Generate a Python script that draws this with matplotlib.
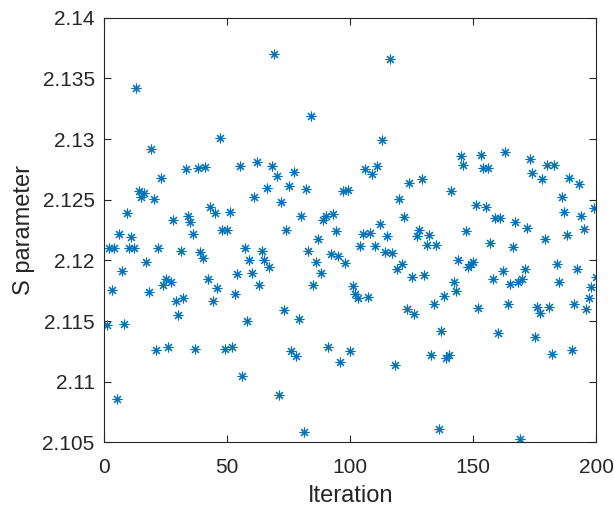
import numpy as np
import matplotlib
matplotlib.use('Agg')
import matplotlib.pyplot as plt

plt.rcParams['font.family'] = ['Liberation Sans', 'DejaVu Sans']

# S parameter value for each iteration
iteration = list(range(1, 201))
s_param = [
    2.1147, 2.1210, 2.1176, 2.1210, 2.1086, 2.1222, 2.1191, 2.1148, 2.1239, 2.1210,
    2.1219, 2.1210, 2.1342, 2.1257, 2.1252, 2.1256, 2.1199, 2.1174, 2.1292, 2.1251,
    2.1126, 2.1210, 2.1268, 2.1180, 2.1185, 2.1129, 2.1182, 2.1233, 2.1167, 2.1155,
    2.1208, 2.1169, 2.1275, 2.1237, 2.1232, 2.1222, 2.1127, 2.1276, 2.1207, 2.1202,
    2.1277, 2.1185, 2.1244, 2.1167, 2.1239, 2.1177, 2.1301, 2.1225, 2.1127, 2.1225,
    2.1240, 2.1129, 2.1172, 2.1189, 2.1278, 2.1105, 2.1210, 2.1150, 2.1200, 2.1190,
    2.1252, 2.1281, 2.1180, 2.1208, 2.1200, 2.1260, 2.1195, 2.1278, 2.1370, 2.1270,
    2.1089, 2.1248, 2.1159, 2.1225, 2.1261, 2.1125, 2.1273, 2.1121, 2.1152, 2.1237,
    2.1059, 2.1259, 2.1208, 2.1319, 2.1180, 2.1199, 2.1218, 2.1190, 2.1233, 2.1237,
    2.1129, 2.1205, 2.1238, 2.1224, 2.1204, 2.1116, 2.1257, 2.1198, 2.1258, 2.1125,
    2.1179, 2.1172, 2.1169, 2.1212, 2.1222, 2.1275, 2.1170, 2.1223, 2.1271, 2.1212,
    2.1278, 2.1230, 2.1299, 2.1207, 2.1220, 2.1366, 2.1206, 2.1114, 2.1193, 2.1251,
    2.1197, 2.1236, 2.1160, 2.1264, 2.1186, 2.1156, 2.1220, 2.1225, 2.1267, 2.1188,
    2.1213, 2.1221, 2.1122, 2.1164, 2.1213, 2.1061, 2.1142, 2.1171, 2.1120, 2.1122,
    2.1257, 2.1182, 2.1175, 2.1200, 2.1286, 2.1279, 2.1224, 2.1195, 2.1197, 2.1199,
    2.1246, 2.1161, 2.1287, 2.1276, 2.1244, 2.1276, 2.1214, 2.1185, 2.1235, 2.1140,
    2.1235, 2.1191, 2.1289, 2.1164, 2.1181, 2.1211, 2.1232, 2.1182, 2.1053, 2.1185,
    2.1193, 2.1227, 2.1284, 2.1272, 2.1137, 2.1162, 2.1157, 2.1267, 2.1218, 2.1279,
    2.1162, 2.1123, 2.1279, 2.1197, 2.1182, 2.1252, 2.1240, 2.1221, 2.1268, 2.1126,
    2.1164, 2.1193, 2.1263, 2.1237, 2.1226, 2.1160, 2.1169, 2.1178, 2.1243, 2.1186,
]
x_ticks = [0, 50, 100, 150, 200]
y_ticks = [2.105, 2.11, 2.115, 2.12, 2.125, 2.13, 2.135, 2.14]

fig = plt.figure(figsize=(6.14, 5.08), dpi=100)
ax = fig.add_axes([0.170, 0.129, 0.801, 0.836])

# MATLAB-style '*' marker: 8-armed asterisk
ax.plot(iteration, s_param, linestyle='none', marker=(8, 2, 0), markersize=7,
        markeredgewidth=0.8, color='#0072BD')

ax.set_xlim(0, 200)
ax.set_ylim(2.105, 2.14)
ax.set_xticks(x_ticks)
ax.set_yticks(y_ticks)
ax.set_yticklabels([f'{v:g}' for v in y_ticks])
ax.tick_params(direction='in', length=5, width=0.8, color='#262626',
               labelsize=15, labelcolor='#262626', top=True, right=True,
               labeltop=False, labelright=False)
ax.tick_params(axis='x', pad=11)
ax.tick_params(axis='y', pad=7)
for side in ax.spines.values():
    side.set_color('#262626')
    side.set_linewidth(0.8)

ax.set_xlabel('Iteration', fontsize=17, color='#262626', labelpad=6)
ax.set_ylabel('S parameter', fontsize=17, color='#262626', labelpad=5)

plt.savefig('out.png', dpi=100)
